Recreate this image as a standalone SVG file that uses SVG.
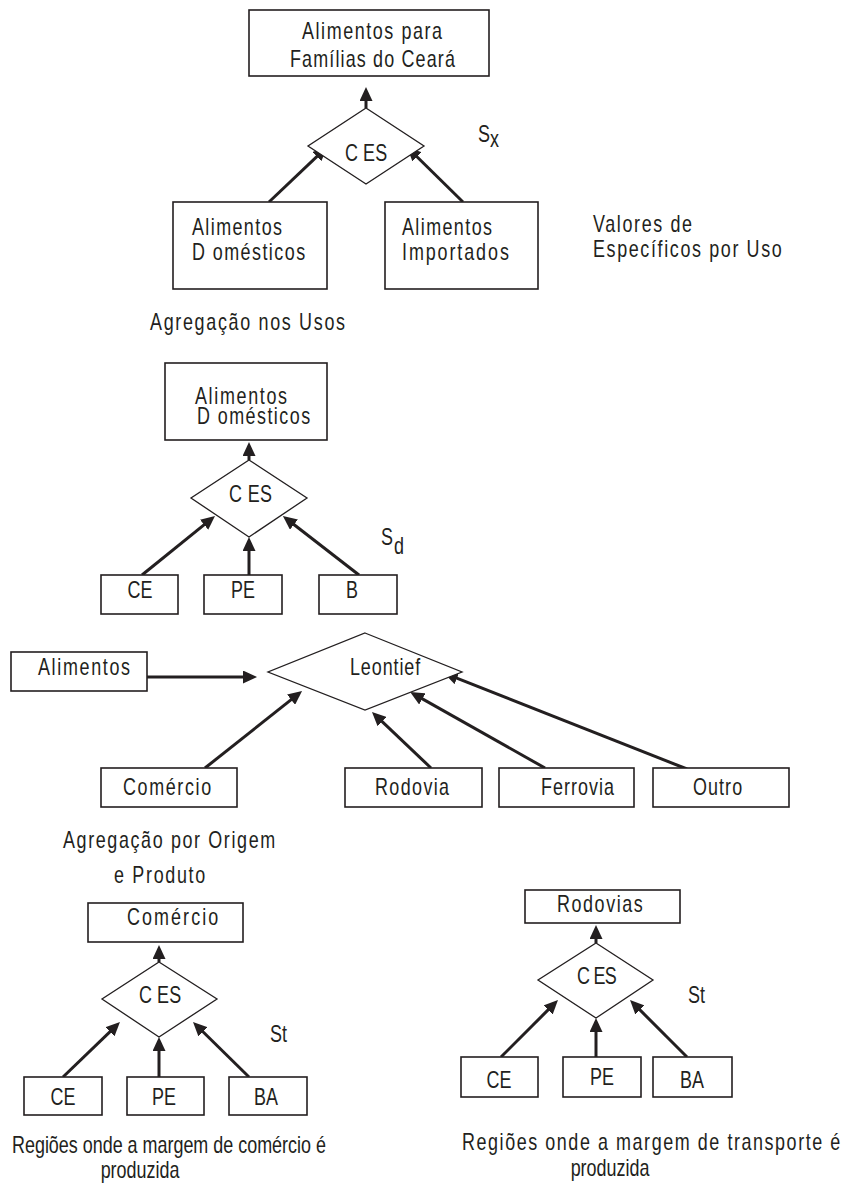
<svg xmlns="http://www.w3.org/2000/svg" width="842" height="1189" viewBox="0 0 842 1189">
  <style>
    .box { fill: #fff; stroke: #231f20; stroke-width: 1.6; }
    .dia { fill: #fff; stroke: #231f20; stroke-width: 1.3; }
    .arr { fill: none; stroke: #231f20; stroke-width: 3; marker-end: url(#head); }
    text { font-family: "Liberation Sans", Arial, sans-serif; font-size: 23px; fill: #231f20; }
    .mid { text-anchor: middle; }
  </style>
  <defs>
    <marker id="head" viewBox="0 0 14 13" markerUnits="userSpaceOnUse" markerWidth="14" markerHeight="13" refX="5" refY="6.5" orient="auto">
      <path d="M0,0 L14,6.5 L0,13 z" fill="#231f20"/>
    </marker>
  </defs>

  <rect width="842" height="1189" fill="#fff"/>

  <!-- connectors -->
  <g id="connectors">
    <line class="arr" x1="366" y1="108" x2="366" y2="96"/>
    <line class="arr" x1="269" y1="202" x2="320.5" y2="153.2"/>
    <line class="arr" x1="463" y1="202" x2="413.4" y2="153.3"/>

    <line class="arr" x1="249" y1="460" x2="249" y2="451"/>
    <line class="arr" x1="142" y1="575" x2="208" y2="521.6"/>
    <line class="arr" x1="249" y1="575" x2="249" y2="546"/>
    <line class="arr" x1="359" y1="575" x2="290" y2="521.5"/>

    <line class="arr" x1="140" y1="677" x2="248" y2="677"/>
    <line class="arr" x1="205" y1="768" x2="295" y2="696.6"/>
    <line class="arr" x1="431" y1="768" x2="378.5" y2="718.2"/>
    <line class="arr" x1="545" y1="768" x2="418" y2="696.4"/>
    <line class="arr" x1="687" y1="769" x2="452.3" y2="676.3"/>

    <line class="arr" x1="159" y1="962" x2="159" y2="954"/>
    <line class="arr" x1="63" y1="1077" x2="113.5" y2="1028.3"/>
    <line class="arr" x1="159" y1="1077" x2="159" y2="1046"/>
    <line class="arr" x1="249" y1="1077" x2="199.4" y2="1028.3"/>

    <line class="arr" x1="596" y1="943" x2="596" y2="934"/>
    <line class="arr" x1="501" y1="1057" x2="551.6" y2="1006.4"/>
    <line class="arr" x1="596" y1="1057" x2="596" y2="1027"/>
    <line class="arr" x1="687" y1="1057" x2="636.4" y2="1006.4"/>
  </g>

  <!-- use aggregation (text is drawn condensed with a 0.78 horizontal scale) -->
  <g id="n-familias">
    <rect class="box" x="249" y="10" width="240" height="66"/>
    <text transform="matrix(0.78 0 0 1 302 39)" textLength="179.5" lengthAdjust="spacing">Alimentos para</text>
    <text transform="matrix(0.78 0 0 1 290 67)" textLength="211.5" lengthAdjust="spacing">Famílias do Ceará</text>
  </g>
  <g id="n-ces-uso">
    <polygon class="dia" points="366,108 424,146 366,184 308,146"/>
    <text transform="matrix(0.78 0 0 1 345 161)" textLength="54" lengthAdjust="spacing">C ES</text>
  </g>
  <g id="n-sx">
    <text transform="matrix(0.78 0 0 1 478 142)">S</text>
    <text transform="matrix(0.78 0 0 1 490 147)">x</text>
  </g>
  <g id="n-dom">
    <rect class="box" x="173" y="202" width="154" height="87"/>
    <text transform="matrix(0.78 0 0 1 192 235)" textLength="115.4" lengthAdjust="spacing">Alimentos</text>
    <text transform="matrix(0.78 0 0 1 192 260)" textLength="145" lengthAdjust="spacing">D omésticos</text>
  </g>
  <g id="n-imp">
    <rect class="box" x="385" y="202" width="153" height="87"/>
    <text transform="matrix(0.78 0 0 1 402 235)" textLength="115.4" lengthAdjust="spacing">Alimentos</text>
    <text transform="matrix(0.78 0 0 1 402 260)" textLength="137" lengthAdjust="spacing">Importados</text>
  </g>
  <g id="n-valores">
    <text transform="matrix(0.78 0 0 1 593 232)" textLength="127" lengthAdjust="spacing">Valores de</text>
    <text transform="matrix(0.78 0 0 1 593 257)" textLength="242" lengthAdjust="spacing">Específicos por Uso</text>
  </g>
  <g id="n-agreg-usos">
    <text transform="matrix(0.78 0 0 1 150 330)" textLength="250" lengthAdjust="spacing">Agregação nos Usos</text>
  </g>

  <!-- origin aggregation -->
  <g id="n-dom2">
    <rect class="box" x="165" y="363" width="162" height="77"/>
    <text transform="matrix(0.78 0 0 1 195 404)" textLength="118" lengthAdjust="spacing">Alimentos</text>
    <text transform="matrix(0.78 0 0 1 197 424)" textLength="145" lengthAdjust="spacing">D omésticos</text>
  </g>
  <g id="n-ces-dom">
    <polygon class="dia" points="249,460 307,498 249,537 191,498"/>
    <text transform="matrix(0.78 0 0 1 229 502)" textLength="55" lengthAdjust="spacing">C ES</text>
  </g>
  <g id="n-sd">
    <text transform="matrix(0.78 0 0 1 381 545)">S</text>
    <text transform="matrix(0.78 0 0 1 394 554)">d</text>
  </g>
  <g id="n-ce1">
    <rect class="box" x="101" y="575" width="77" height="39"/>
    <text class="mid" transform="matrix(0.78 0 0 1 140 598)">CE</text>
  </g>
  <g id="n-pe1">
    <rect class="box" x="204" y="575" width="78" height="39"/>
    <text class="mid" transform="matrix(0.78 0 0 1 243 598)">PE</text>
  </g>
  <g id="n-b1">
    <rect class="box" x="319" y="575" width="78" height="39"/>
    <text class="mid" transform="matrix(0.78 0 0 1 352 598)">B</text>
  </g>

  <!-- Leontief composite -->
  <g id="n-alimentos">
    <rect class="box" x="11" y="652" width="136" height="39"/>
    <text transform="matrix(0.78 0 0 1 38 675)" textLength="118" lengthAdjust="spacing">Alimentos</text>
  </g>
  <g id="n-leontief">
    <polygon class="dia" points="365,633 462,672 365,710 268,672"/>
    <text transform="matrix(0.78 0 0 1 350 675)" textLength="90" lengthAdjust="spacing">Leontief</text>
  </g>
  <g id="n-comercio">
    <rect class="box" x="101" y="768" width="136" height="39"/>
    <text transform="matrix(0.78 0 0 1 123 795)" textLength="113" lengthAdjust="spacing">Comércio</text>
  </g>
  <g id="n-rodovia">
    <rect class="box" x="345" y="768" width="137" height="39"/>
    <text transform="matrix(0.78 0 0 1 375 795)" textLength="95" lengthAdjust="spacing">Rodovia</text>
  </g>
  <g id="n-ferrovia">
    <rect class="box" x="499" y="768" width="135" height="39"/>
    <text transform="matrix(0.78 0 0 1 541 795)" textLength="93.6" lengthAdjust="spacing">Ferrovia</text>
  </g>
  <g id="n-outro">
    <rect class="box" x="653" y="768" width="136" height="39"/>
    <text transform="matrix(0.78 0 0 1 693 795)" textLength="63" lengthAdjust="spacing">Outro</text>
  </g>
  <g id="n-agreg-origem">
    <text transform="matrix(0.78 0 0 1 63 848)" textLength="272" lengthAdjust="spacing">Agregação por Origem</text>
    <text transform="matrix(0.78 0 0 1 114 883)" textLength="117" lengthAdjust="spacing">e Produto</text>
  </g>

  <!-- trade margin -->
  <g id="n-comercio2">
    <rect class="box" x="88" y="903" width="155" height="39"/>
    <text transform="matrix(0.78 0 0 1 127 925)" textLength="117" lengthAdjust="spacing">Comércio</text>
  </g>
  <g id="n-ces-com">
    <polygon class="dia" points="159,962 217,999 159,1037 102,999"/>
    <text transform="matrix(0.78 0 0 1 139 1003)" textLength="54" lengthAdjust="spacing">C ES</text>
  </g>
  <g id="n-st1">
    <text transform="matrix(0.78 0 0 1 270 1042)">St</text>
  </g>
  <g id="n-ce2">
    <rect class="box" x="24" y="1077" width="78" height="38"/>
    <text class="mid" transform="matrix(0.78 0 0 1 63 1105)">CE</text>
  </g>
  <g id="n-pe2">
    <rect class="box" x="127" y="1077" width="77" height="38"/>
    <text class="mid" transform="matrix(0.78 0 0 1 164 1105)">PE</text>
  </g>
  <g id="n-ba2">
    <rect class="box" x="229" y="1077" width="78" height="38"/>
    <text class="mid" transform="matrix(0.78 0 0 1 266 1105)">BA</text>
  </g>
  <g id="n-cap-com">
    <text transform="matrix(0.78 0 0 1 12 1153)">Regiões onde a margem de comércio é</text>
    <text class="mid" transform="matrix(0.78 0 0 1 140 1178)">produzida</text>
  </g>

  <!-- transport margin -->
  <g id="n-rodovias">
    <rect class="box" x="525" y="890" width="155" height="33"/>
    <text transform="matrix(0.78 0 0 1 557 912)" textLength="110" lengthAdjust="spacing">Rodovias</text>
  </g>
  <g id="n-ces-rod">
    <polygon class="dia" points="596,943 653,980 596,1018 538,980"/>
    <text transform="matrix(0.78 0 0 1 577 984)" textLength="51" lengthAdjust="spacing">C ES</text>
  </g>
  <g id="n-st2">
    <text transform="matrix(0.78 0 0 1 688 1003)">St</text>
  </g>
  <g id="n-ce3">
    <rect class="box" x="461" y="1057" width="77" height="40"/>
    <text class="mid" transform="matrix(0.78 0 0 1 499 1088)">CE</text>
  </g>
  <g id="n-pe3">
    <rect class="box" x="563" y="1057" width="78" height="40"/>
    <text class="mid" transform="matrix(0.78 0 0 1 602 1085)">PE</text>
  </g>
  <g id="n-ba3">
    <rect class="box" x="653" y="1057" width="79" height="40"/>
    <text class="mid" transform="matrix(0.78 0 0 1 692 1088)">BA</text>
  </g>
  <g id="n-cap-transp">
    <text transform="matrix(0.78 0 0 1 462 1150)" textLength="485" lengthAdjust="spacing">Regiões onde a margem de transporte é</text>
    <text class="mid" transform="matrix(0.78 0 0 1 610 1176)">produzida</text>
  </g>
</svg>
